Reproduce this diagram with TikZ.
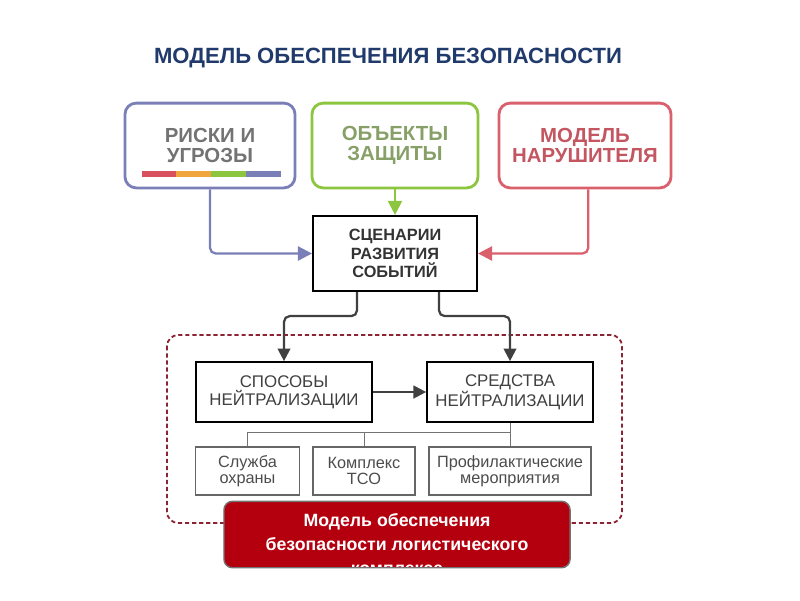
\documentclass[tikz,border=0pt]{standalone}
\usepackage{fontspec}
\setmainfont{Liberation Sans}
\usetikzlibrary{arrows.meta}

\definecolor{titleblue}{HTML}{1F3A6B}
\definecolor{riskblue}{HTML}{7B7FB8}
\definecolor{objgreen}{HTML}{8CC63F}
\definecolor{intred}{HTML}{D9606C}
\definecolor{barred}{HTML}{D9505E}
\definecolor{barorange}{HTML}{F0A63C}
\definecolor{bargreen}{HTML}{8CC63F}
\definecolor{frame}{HTML}{8C2434}
\definecolor{modelred}{HTML}{B4000E}

\tikzset{
  topbox/.style={draw, line width=2pt, rounded corners=8pt, align=center,
    font=\bfseries\fontsize{14.5}{14.5}\selectfont},
  midbox/.style={draw, line width=1.2pt, align=center, text=black!75},
  smallbox/.style={draw=black!60, line width=0.8pt, align=center, text=black!70,
    minimum height=1.2cm, font=\fontsize{11.6}{11.6}\selectfont},
  link/.style={line width=1.6pt, rounded corners=4pt, -{Triangle[width=10pt,length=10pt]}},
  tree/.style={draw=black!55, line width=0.7pt}
}

\begin{document}
\begin{tikzpicture}[x=0.025cm, y=-0.025cm]
\useasboundingbox (0,0) rectangle (800,600);

\node[font=\bfseries\fontsize{15.7}{18}\selectfont, text=titleblue] (title) at (388,58)
  {МОДЕЛЬ ОБЕСПЕЧЕНИЯ БЕЗОПАСНОСТИ};

% Top boxes
\node[topbox, draw=riskblue, text=black!55, minimum width=4.25cm, minimum height=2.12cm]
  (risks) at (210,145.5) {РИСКИ И\\УГРОЗЫ};
\node[topbox, draw=objgreen, text=objgreen!60!black!70, minimum width=4.15cm,
  minimum height=2.12cm] (objects) at (395,145.5) {ОБЪЕКТЫ\\ЗАЩИТЫ};
\node[topbox, draw=intred, text=intred!90!black, minimum width=4.3cm,
  minimum height=2.12cm] (intruder) at (585,145.5) {МОДЕЛЬ\\НАРУШИТЕЛЯ};

% Colour bar
\fill[barred] (142,171) rectangle (176,177);
\fill[barorange] (176,171) rectangle (211,177);
\fill[bargreen] (211,171) rectangle (246,177);
\fill[riskblue] (246,171) rectangle (281,177);

% Scenarios
\node[midbox, line width=1.4pt, text=black!80, minimum width=4.1cm, minimum height=1.88cm,
  font=\bfseries\fontsize{11.6}{13}\selectfont] (scen) at (395,253.5)
  {СЦЕНАРИИ\\РАЗВИТИЯ\\СОБЫТИЙ};

\draw[link, riskblue] (risks.south) |- (scen.west);
\draw[link, objgreen] (objects.south) -- (scen.north);
\draw[link, intred] ([xshift=0.08cm]intruder.south) |- (scen.east);

% Neutralization
\draw[frame, line width=1.3pt, densely dashed, rounded corners=8pt]
  (167,335) rectangle (622,523);

\node[midbox, minimum width=4.4cm, minimum height=1.5cm,
  font=\fontsize{12}{13}\selectfont] (ways) at (284,392) {СПОСОБЫ\\НЕЙТРАЛИЗАЦИИ};
\node[midbox, minimum width=4.15cm, minimum height=1.5cm,
  font=\fontsize{12}{13}\selectfont] (means) at (510,392) {СРЕДСТВА\\НЕЙТРАЛИЗАЦИИ};

\draw[link, black!75, -{Triangle[width=9pt,length=9pt]}]
  ([xshift=-0.95cm]scen.south) -- ++(0,24) -| (ways.north);
\draw[link, black!75, -{Triangle[width=9pt,length=9pt]}]
  ([xshift=1.1cm]scen.south) -- ++(0,24) -| (means.north);
\draw[link, black!75, rounded corners=0pt, -{Triangle[width=9pt,length=9pt]}]
  (ways) -- (means);

\node[smallbox, minimum width=2.58cm] (guard) at (247.5,471) {Служба\\охраны};
\node[smallbox, minimum width=2.55cm] (tso) at (364,471) {Комплекс\\ТСО};
\node[smallbox, minimum width=4.05cm] (prof) at (510,471) {Профилактические\\мероприятия};

\draw[tree] (means.south) -- (prof.north);
\draw[tree] (means.south) ++(0,10) coordinate (fork) -| (guard.north);
\draw[tree] (tso.north) -- (tso.north |- fork);

% Model box
\node[draw=black!55, line width=1pt, fill=modelred, rounded corners=6pt,
  minimum width=8.65cm, minimum height=1.66cm,
  path picture={\node[text=white, align=center,
    font=\bfseries\fontsize{12.6}{17}\selectfont]
    at ([yshift=-0.23cm]path picture bounding box.center)
    {Модель обеспечения\\безопасности логистического\\комплекса};}]
  (model) at (397,534.5) {};

\end{tikzpicture}
\end{document}
